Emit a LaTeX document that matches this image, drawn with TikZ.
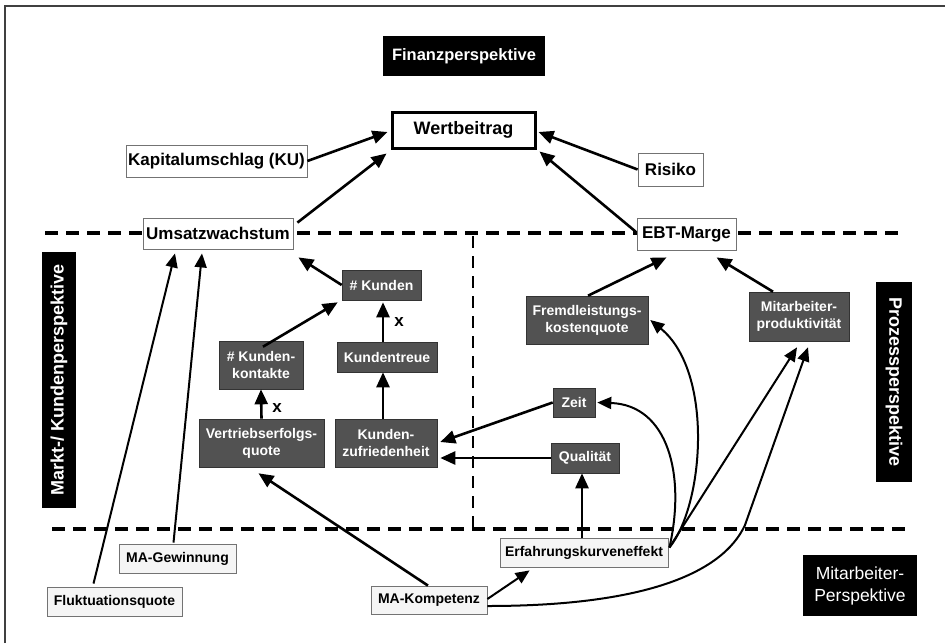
\documentclass[tikz,border=0pt]{standalone}
\usepackage{fontspec}
\setmainfont{Liberation Sans}
\usetikzlibrary{arrows.meta,calc}
\begin{document}
\begin{tikzpicture}[x=1pt,y=-1pt,
  box/.style={draw=black!55, line width=0.8pt, fill=white, inner sep=0pt,
    font=\fontsize{17}{20}\selectfont\bfseries},
  lowbox/.style={box, fill=black!4, font=\fontsize{14}{17}\selectfont\bfseries},
  darkbox/.style={draw=black!80, line width=0.6pt, fill=black!68, text=white,
    inner sep=0pt, align=center, font=\fontsize{14}{17}\selectfont\bfseries},
  persp/.style={fill=black, text=white, inner sep=0pt, align=center,
    font=\fontsize{18}{21}\selectfont\bfseries},
  conn/.style={line width=2.6pt, -{Triangle[length=15pt,width=13pt]}},
  slim/.style={line width=2pt, -{Triangle[length=14pt,width=12pt]}},
  divider/.style={line width=3.2pt, dash pattern=on 13pt off 8pt},
  vdivider/.style={line width=2.6pt, dash pattern=on 12pt off 8pt},
  factor/.style={font=\fontsize{17}{19}\selectfont\bfseries, inner sep=0pt}
]
\useasboundingbox (0,0) rectangle (945,643);

% frame
\draw[line width=1.5pt, black!75] (5,643) -- (5,6) -- (945,6);

% perspective dividers
\draw[divider] (45,233) -- (905,233);
\draw[divider] (52,529) -- (912,529);
\draw[vdivider] (473,236) -- (473,529);

% perspective labels
\node[persp, font=\fontsize{16.5}{20}\selectfont\bfseries,
  minimum width=162pt, minimum height=40pt] (fin) at (464,56) {Finanzperspektive};
\node[persp, rotate=90, minimum width=256pt, minimum height=34pt] (markt) at (59,380) {Markt-/ Kundenperspektive};
\node[persp, rotate=-90, minimum width=200pt, minimum height=36pt] (prozess) at (894,382) {Prozessperspektive};
\node[persp, font=\fontsize{17.5}{22}\selectfont, minimum width=114pt,
  minimum height=61pt] (mitpersp) at (860,585.5) {Mitarbeiter-\\Perspektive};

% financial measures
\node[box, draw=black, line width=3pt, font=\fontsize{18}{21}\selectfont\bfseries,
  minimum width=143pt, minimum height=36pt] (wert) at (463.5,130) {Wertbeitrag};
\node[box, minimum width=181pt, minimum height=32pt] (ku) at (216.5,161) {Kapitalumschlag (KU)};
\node[box, minimum width=65pt, minimum height=33pt] (risiko) at (670.5,169.5) {Risiko};
\node[box, minimum width=150pt, minimum height=31pt] (umsatz) at (218,233.5) {Umsatzwachstum};
\node[box, minimum width=99pt, minimum height=32pt] (ebt) at (686.5,234) {EBT-Marge};

% market / customer drivers
\node[darkbox, minimum width=79pt, minimum height=30pt] (kunden) at (381.5,285) {\# Kunden};
\node[darkbox, minimum width=84pt, minimum height=48pt] (kontakte) at (261,365) {\# Kunden-\\kontakte};
\node[darkbox, minimum width=100pt, minimum height=30pt] (treue) at (387,357) {Kundentreue};
\node[darkbox, minimum width=125pt, minimum height=48pt] (vertrieb) at (261.5,443) {Vertriebserfolgs-\\quote};
\node[darkbox, minimum width=102pt, minimum height=48pt] (zufried) at (386,443) {Kunden-\\zufriedenheit};

% process drivers
\node[darkbox, minimum width=122pt, minimum height=48pt] (fremd) at (587,320) {Fremdleistungs-\\kostenquote};
\node[darkbox, minimum width=100pt, minimum height=49pt] (mitprod) at (799,316.5) {Mitarbeiter-\\produktivität};
\node[darkbox, minimum width=42pt, minimum height=29pt] (zeit) at (574,402.5) {Zeit};
\node[darkbox, minimum width=68pt, minimum height=30pt] (qual) at (585,458) {Qualität};

% employee drivers
\node[lowbox, minimum width=168pt, minimum height=29pt] (erfahr) at (584,552.5) {Erfahrungskurveneffekt};
\node[lowbox, minimum width=117pt, minimum height=29pt] (magew) at (177.5,558.5) {MA-Gewinnung};
\node[lowbox, minimum width=135pt, minimum height=29pt] (fluk) at (114.5,601.5) {Fluktuationsquote};
\node[lowbox, minimum width=116pt, minimum height=28pt] (makomp) at (429,600) {MA-Kompetenz};

% links into the value contribution
\draw[conn] (ku.east) -- ($(wert.west)+(-3,2)$);
\draw[conn] ($(umsatz.north east)+(4,5)$) -- ($(wert.south west)+(-4,4)$);
\draw[conn] (risiko.west) -- ($(wert.east)+(2,2)$);
\draw[conn] ($(ebt.north west)+(-1,14)$) -- ($(wert.south east)+(3,2)$);

% customer chain
\draw[conn] (kunden.west) -- ($(umsatz.south east)+(5,8)$);
\draw[conn] ($(kontakte.north)+(2,6)$) -- ($(kunden.south west)+(-4,2)$);
\draw[conn] ($(treue.north)+(-4,0)$) -- ($(kunden.south)+(1.5,2)$);
\draw[conn] (vertrieb.north) -- (kontakte.south);
\draw[conn] ($(zufried.north)+(-3,0)$) -- ($(treue.south)+(-4,0)$);
\node[factor] (x1) at (277,408) {x};
\node[factor] (x2) at (399,322) {x};

% process links
\draw[conn] ($(fremd.north)+(1,0)$) -- ($(ebt.south)+(-20,7)$);
\draw[conn] ($(mitprod.north)+(-26,0)$) -- ($(ebt.south)+(30,7)$);
\draw[conn] (zeit.west) -- ($(zufried.east)+(3,-1)$);
\draw[conn] (qual.west) -- ($(qual.west -| zufried.east)+(3,0)$);

% employee links
\draw[slim] ($(fluk.north)+(-21,-3)$) -- ($(umsatz.south)+(-43,4)$);
\draw[slim] ($(magew.north)+(-4,-1)$) -- ($(umsatz.south)+(-16,4)$);
\draw[conn] ($(makomp.north)+(-1,0)$) -- ($(vertrieb.south)+(-3,6)$);
\draw[conn] ($(erfahr.north)+(-2,0)$) -- ($(erfahr.north |- qual.south)+(-2,0)$);
\draw[slim] ($(makomp.east)+(0,-1)$) -- ($(erfahr.south west)+(30,3)$);

\coordinate (erfout) at ($(erfahr.east)+(1,-5)$);
\draw[slim] (erfout) .. controls (686,475) and (668,405) .. ($(zeit.east)+(2,0)$);
\draw[slim] (erfout) .. controls (704,505) and (714,372) .. ($(fremd.east)+(2,0)$);
\draw[slim] (erfout) -- ($(mitprod.south)+(-2,6)$);
\draw[slim] ($(makomp.east)+(0,6)$) .. controls (640,606) and (722,575) .. (745,525)
  -- ($(mitprod.south)+(9,6)$);
\end{tikzpicture}
\end{document}
